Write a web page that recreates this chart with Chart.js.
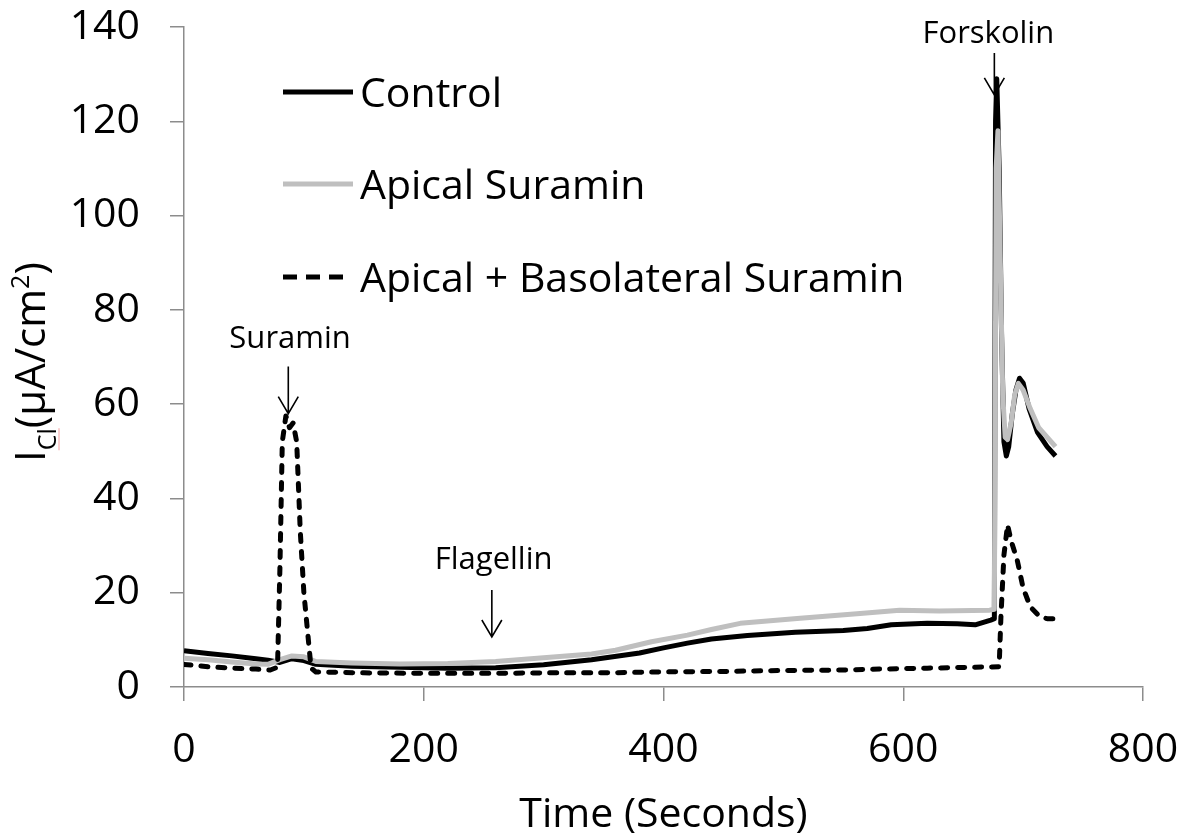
<!DOCTYPE html>
<html>
<head>
<meta charset="utf-8">
<script src="https://cdn.jsdelivr.net/npm/chart.js@4.4.1/dist/chart.umd.min.js"></script>
<style>
  html, body { margin: 0; padding: 0; background: #fff; }
  canvas { display: block; }
</style>
</head>
<body>
<canvas id="iclChart" width="1193" height="840"></canvas>
<script>
// Chloride current traces, time in seconds, current in µA/cm²
const controlTime = [0, 20, 40, 60, 70, 80, 90, 100, 110, 140, 180, 220, 260, 300, 340, 380, 400, 420, 440, 470,
    510, 550, 570, 590, 620, 645, 660, 673, 676, 677, 678, 680, 682, 684, 686, 688, 691, 694, 697, 700,
    705, 712, 720, 727];
const controlCurrent = [7.7, 7.1, 6.6, 6.0, 5.7, 5.2, 6.0, 5.6, 4.8, 4.4, 4.2, 4.0, 4.1, 4.7, 5.8, 7.2, 8.3, 9.3, 10.2, 10.9,
    11.6, 12.0, 12.4, 13.2, 13.5, 13.4, 13.2, 14.2, 14.5, 120, 129, 110, 75, 52, 49, 51, 58, 63, 65.5, 64.5,
    59, 54, 51, 49];

const apicalTime = [0, 20, 40, 60, 70, 80, 90, 100, 110, 140, 180, 220, 260, 300, 340, 360, 390, 420, 440, 464,
    514, 564, 597, 630, 672, 676, 677.5, 679, 681, 683, 685, 687, 690, 693, 696, 700, 706, 713, 720, 727];
const apicalCurrent = [6.1, 5.8, 5.3, 4.9, 4.8, 5.8, 6.6, 6.4, 5.4, 5.1, 4.9, 5.0, 5.4, 6.2, 7.0, 7.8, 9.6, 11.0, 12.2, 13.5,
    14.6, 15.6, 16.3, 16.1, 16.3, 16.5, 110, 118, 90, 62, 53, 52.5, 56, 62, 64.4, 63, 59, 55, 53, 51];

const bothTime = [0, 20, 40, 60, 72, 78, 80, 82, 85, 88, 91, 94, 97, 100, 103, 106, 110, 150, 200, 260,
    300, 350, 400, 450, 500, 550, 580, 620, 660, 680, 681.5, 684, 687, 690, 695, 700, 706, 714, 720, 727];
const bothCurrent = [4.8, 4.3, 4.0, 3.8, 3.6, 4.2, 25, 52, 57.5, 55, 56, 52, 33, 20, 12, 4, 3.2, 3.0, 2.9, 2.9,
    3.0, 3.0, 3.2, 3.3, 3.5, 3.6, 3.8, 4.0, 4.2, 4.3, 15, 28, 34.4, 31, 27, 21, 17, 14.9, 14.5, 14.5];

const seriesNames = ['Control', 'Apical Suramin', 'Apical + Basolateral Suramin'];
const xTicks = [0, 200, 400, 600, 800];
const yTicks = [0, 20, 40, 60, 80, 100, 120, 140];

const FONT = '"Open Sans", "Noto Sans", sans-serif';
const AXIS_GREY = '#8c8c8c';

function toPoints(times, values) {
    return times.map((t, i) => ({ x: t, y: values[i] }));
}

// legend drawn inside the plot, lines on the left of each label
const insideLegend = {
    id: 'insideLegend',
    afterDraw(chart) {
        const c = chart.ctx;
        const rows = [
            { y: 92, color: '#000000', dash: [] },
            { y: 184, color: '#bfbfbf', dash: [] },
            { y: 277, color: '#000000', dash: [14, 9] }
        ];
        c.save();
        c.font = '41px ' + FONT;
        c.fillStyle = '#000';
        c.textBaseline = 'alphabetic';
        rows.forEach((r, i) => {
            c.beginPath();
            c.setLineDash(r.dash);
            c.lineWidth = 5;
            c.lineCap = 'butt';
            c.strokeStyle = r.color;
            c.moveTo(283, r.y);
            c.lineTo(r.dash.length ? 343 : 353, r.y);
            c.stroke();
            c.fillText(seriesNames[i], 360, r.y + 15);
        });
        c.restore();
    }
};

// treatment labels with downward arrows
const treatmentMarks = {
    id: 'treatmentMarks',
    afterDatasetsDraw(chart) {
        const c = chart.ctx;
        const xs = chart.scales.x, ys = chart.scales.y;
        const marks = [
            { text: 'Suramin', tx: 88.5, ty: 73.7, ax: 87, from: 68, to: 58 },
            { text: 'Flagellin', tx: 258.3, ty: 26.9, ax: 256.8, from: 20.6, to: 10.6 },
            { text: 'Forskolin', tx: 671, ty: 138.4, ax: 676, from: 134.5, to: 125.6 }
        ];
        c.save();
        c.font = '31px ' + FONT;
        c.fillStyle = '#000';
        c.textAlign = 'center';
        c.textBaseline = 'middle';
        c.strokeStyle = '#000';
        c.lineWidth = 1.6;
        marks.forEach(m => {
            c.fillText(m.text, xs.getPixelForValue(m.tx), ys.getPixelForValue(m.ty));
            const x = xs.getPixelForValue(m.ax);
            const y1 = ys.getPixelForValue(m.from);
            const y2 = ys.getPixelForValue(m.to);
            c.beginPath();
            c.moveTo(x, y1);
            c.lineTo(x, y2);
            c.moveTo(x - 10, y2 - 17);
            c.lineTo(x, y2);
            c.lineTo(x + 10, y2 - 17);
            c.stroke();
        });
        c.restore();
    }
};

// y axis title with subscript and superscript
const yTitle = {
    id: 'yTitle',
    afterDraw(chart) {
        const c = chart.ctx;
        c.save();
        c.translate(45, 462);
        c.rotate(-Math.PI / 2);
        c.fillStyle = '#000';
        c.textBaseline = 'alphabetic';
        let x = 0;
        const big = '42px ' + FONT, small = '25px ' + FONT;
        c.font = big;
        c.fillText('I', x, 0);
        x += c.measureText('I').width;
        c.font = small;
        c.fillText('Cl', x, 11);
        const clw = c.measureText('Cl').width;
        c.strokeStyle = '#f4a0a0';
        c.lineWidth = 1;
        c.beginPath();
        c.moveTo(x, 14);
        c.lineTo(x + clw, 14);
        c.stroke();
        x += clw;
        c.font = big;
        c.fillText('(µA/cm', x, 0);
        x += c.measureText('(µA/cm').width;
        c.font = small;
        c.fillText('2', x, -16);
        x += c.measureText('2').width;
        c.font = big;
        c.fillText(')', x, 0);
        c.restore();
    }
};

const ctx = document.getElementById('iclChart').getContext('2d');
const iclChart = new Chart(ctx, {
    type: 'line',
    data: {
        datasets: [
            {
                label: seriesNames[0],
                data: toPoints(controlTime, controlCurrent),
                borderColor: '#000000',
                borderWidth: 5,
                order: 3
            },
            {
                label: seriesNames[1],
                data: toPoints(apicalTime, apicalCurrent),
                borderColor: '#bfbfbf',
                borderWidth: 5,
                order: 2
            },
            {
                label: seriesNames[2],
                data: toPoints(bothTime, bothCurrent),
                borderColor: '#000000',
                borderWidth: 5,
                borderDash: [7, 10],
                borderCapStyle: 'round',
                order: 1
            }
        ]
    },
    options: {
        responsive: false,
        animation: false,
        elements: {
            point: { radius: 0 },
            line: { tension: 0, fill: false, borderJoinStyle: 'round' }
        },
        layout: { padding: { top: 27, right: 50, left: 0, bottom: 0 } },
        plugins: {
            legend: { display: false },
            tooltip: { enabled: false }
        },
        scales: {
            x: {
                type: 'linear',
                min: 0,
                max: 800,
                afterBuildTicks(scale) { scale.ticks = xTicks.map(v => ({ value: v })); },
                afterFit(scale) {
                    scale.height = 153;
                    scale.paddingLeft = 0;
                    scale.paddingRight = 0;
                },
                ticks: { color: '#000', font: { family: FONT, size: 41 }, padding: 25 },
                grid: { drawOnChartArea: false, tickLength: 14, color: AXIS_GREY, lineWidth: 1.5 },
                border: { display: true, color: AXIS_GREY, width: 1.5 },
                title: {
                    display: true,
                    text: 'Time (Seconds)',
                    color: '#000',
                    font: { family: FONT, size: 41 },
                    padding: { top: 0, bottom: 0 }
                }
            },
            y: {
                min: 0,
                max: 140,
                afterBuildTicks(scale) { scale.ticks = yTicks.map(v => ({ value: v })); },
                afterFit(scale) {
                    scale.width = 184;
                    scale.paddingTop = 0;
                    scale.paddingBottom = 0;
                },
                ticks: { color: '#000', font: { family: FONT, size: 41 }, padding: 30 },
                grid: { drawOnChartArea: false, tickLength: 14, color: AXIS_GREY, lineWidth: 1.5 },
                border: { display: true, color: AXIS_GREY, width: 1.5 }
            }
        }
    },
    plugins: [treatmentMarks, insideLegend, yTitle]
});
</script>
</body>
</html>
